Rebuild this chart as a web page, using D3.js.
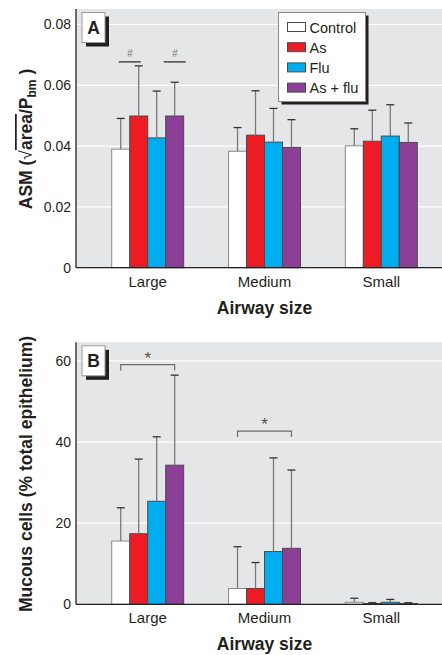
<!DOCTYPE html>
<html>
<head>
<meta charset="utf-8">
<script src="https://cdn.jsdelivr.net/npm/d3@7"></script>
<style>
  body { margin: 0; background: #fff; }
  svg { display: block; }
  text { font-family: "Liberation Sans", Arial, sans-serif; }
</style>
</head>
<body>
<svg id="chart"></svg>
<script>
// data
const groups = ['Large', 'Medium', 'Small'];
const series = ['Control', 'As', 'Flu', 'As + flu'];
const colors = ['#ffffff', '#ed1c24', '#00aeef', '#8b3f97'];

// panel A: ASM, mean and top of error bar
const asmMean = [
  [0.0390, 0.0499, 0.0427, 0.0499],
  [0.0383, 0.0436, 0.0413, 0.0396],
  [0.0401, 0.0416, 0.0433, 0.0412]
];
const asmErr = [
  [0.0491, 0.0664, 0.0581, 0.0610],
  [0.0461, 0.0582, 0.0524, 0.0487],
  [0.0457, 0.0518, 0.0536, 0.0476]
];
const asmTicks = [0, 0.02, 0.04, 0.06, 0.08];

// panel B: mucous cells
const mucMean = [
  [15.6, 17.4, 25.4, 34.3],
  [3.9, 3.9, 13.0, 13.8],
  [0.5, 0.2, 0.5, 0.2]
];
const mucErr = [
  [23.8, 35.8, 41.3, 56.5],
  [14.2, 10.3, 36.1, 33.1],
  [1.5, 0.4, 1.2, 0.4]
];
const mucTicks = [0, 20, 40, 60];

// significance marks
const asmHash = [
  {group: 'Large', series: 'As', at: 0, value: 0.0677},
  {group: 'Large', series: 'As + flu', at: 0.5, value: 0.0677}
];
const mucStar = [
  {group: 'Large', from: 'Control', to: 'As + flu', value: 59.1},
  {group: 'Medium', from: 'Control', to: 'As + flu', value: 42.7}
];

const w = 442, h = 655;
const left = 76;
const svg = d3.select('#chart')
    .attr('width', w)
    .attr('height', h);

// group and bar scales
const x = d3.scaleBand()
    .domain(groups)
    .range([89.3, 439.7])
    .paddingInner(0.384)
    .paddingOuter(0.192);

const xs = d3.scaleBand()
    .domain(series)
    .range([0, x.bandwidth()]);

function drawPanel(opt) {
  const y = d3.scaleLinear().domain([0, opt.max]).range([opt.bottom, opt.top]);
  const g = svg.append('g');

  //background
  g.append('rect')
      .attr('x', left)
      .attr('y', opt.top)
      .attr('width', w - left)
      .attr('height', opt.bottom - opt.top)
      .attr('fill', '#e5e6e7');

  //grid
  g.selectAll('.grid')
      .data(opt.ticks.filter(d => d > 0))
      .enter()
      .append('line')
      .attr('x1', left)
      .attr('x2', w)
      .attr('y1', d => y(d))
      .attr('y2', d => y(d))
      .attr('stroke', 'white')
      .attr('stroke-width', 1.2);

  //y axis labels
  const ya = g.append('g')
      .attr('transform', 'translate(' + left + ',0)')
      .call(d3.axisLeft(y).tickValues(opt.ticks).tickFormat(opt.fmt).tickSize(0).tickPadding(5));
  ya.select('.domain').remove();
  ya.selectAll('text')
      .attr('font-size', 14)
      .attr('fill', '#231f20')
      .attr('font-family', null);

  //bars
  const rows = [];
  groups.forEach((gr, i) => series.forEach((s, j) => {
    rows.push({g: gr, s: s, v: opt.mean[i][j], e: opt.err[i][j], c: colors[j]});
  }));

  const bars = g.append('g');
  bars.selectAll('rect')
      .data(rows)
      .enter()
      .append('rect')
      .attr('x', d => x(d.g) + xs(d.s))
      .attr('y', d => y(d.v))
      .attr('width', xs.bandwidth())
      .attr('height', d => y(0) - y(d.v))
      .attr('fill', d => d.c)
      .attr('stroke', d => d.s === 'Control' ? '#8a8a8a' : '#4a4a4a')
      .attr('stroke-width', 1);

  //error bars
  const eb = g.append('g');
  eb.selectAll('line.v')
      .data(rows)
      .enter()
      .append('line')
      .attr('x1', d => x(d.g) + xs(d.s) + xs.bandwidth() / 2)
      .attr('x2', d => x(d.g) + xs(d.s) + xs.bandwidth() / 2)
      .attr('y1', d => y(d.v))
      .attr('y2', d => y(d.e))
      .attr('stroke', '#7a7a7a')
      .attr('stroke-width', 1.3);
  eb.selectAll('line.cap')
      .data(rows)
      .enter()
      .append('line')
      .attr('x1', d => x(d.g) + xs(d.s) + xs.bandwidth() / 2 - 4)
      .attr('x2', d => x(d.g) + xs(d.s) + xs.bandwidth() / 2 + 4)
      .attr('y1', d => y(d.e))
      .attr('y2', d => y(d.e))
      .attr('stroke', '#333')
      .attr('stroke-width', 1.3);

  //axes lines
  g.append('line')
      .attr('x1', left).attr('x2', left)
      .attr('y1', opt.top).attr('y2', opt.bottom)
      .attr('stroke', '#231f20')
      .attr('stroke-width', 1.3);
  g.append('line')
      .attr('x1', left).attr('x2', w)
      .attr('y1', opt.bottom).attr('y2', opt.bottom)
      .attr('stroke', '#231f20')
      .attr('stroke-width', 1.3);

  //category labels
  const xa = g.append('g')
      .attr('transform', 'translate(0,' + opt.bottom + ')')
      .call(d3.axisBottom(x).tickSize(0).tickPadding(8.5));
  xa.select('.domain').remove();
  xa.selectAll('text')
      .attr('font-size', 15)
      .attr('fill', '#231f20')
      .attr('font-family', null);

  //x title
  g.append('text')
      .attr('x', x('Medium') + x.bandwidth() / 2)
      .attr('y', opt.bottom + 46)
      .attr('text-anchor', 'middle')
      .attr('font-size', 17.5)
      .attr('font-weight', 'bold')
      .attr('fill', '#231f20')
      .text('Airway size');

  //panel letter box
  const lb = g.append('g')
      .attr('transform', 'translate(82,' + (opt.top + 3.5) + ')');
  lb.append('rect')
      .attr('x', 4).attr('y', 4)
      .attr('width', 23).attr('height', 30)
      .attr('fill', '#231f20');
  lb.append('rect')
      .attr('width', 23).attr('height', 30)
      .attr('fill', 'white')
      .attr('stroke', '#9a9a9a');
  lb.append('text')
      .attr('x', 11.5).attr('y', 21.5)
      .attr('text-anchor', 'middle')
      .attr('font-size', 17.5)
      .attr('font-weight', 'bold')
      .attr('fill', '#231f20')
      .text(opt.letter);

  return y;
}

//-------------------------------PANEL A---------------------------------------//
const yA = drawPanel({
  top: 9, bottom: 267.7, max: 0.0851,
  ticks: asmTicks, fmt: d => d === 0 ? '0' : d3.format('.2f')(d),
  mean: asmMean, err: asmErr, letter: 'A'
});

// # marks
const hash = svg.append('g');
hash.selectAll('line')
    .data(asmHash)
    .enter()
    .append('line')
    .attr('x1', d => x(d.group) + xs(d.series) + xs.bandwidth() * d.at - 11)
    .attr('x2', d => x(d.group) + xs(d.series) + xs.bandwidth() * d.at + 11)
    .attr('y1', d => yA(d.value))
    .attr('y2', d => yA(d.value))
    .attr('stroke', '#231f20')
    .attr('stroke-width', 1.2);
hash.selectAll('text')
    .data(asmHash)
    .enter()
    .append('text')
    .attr('x', d => x(d.group) + xs(d.series) + xs.bandwidth() * d.at)
    .attr('y', d => yA(d.value) - 5)
    .attr('text-anchor', 'middle')
    .attr('font-size', 10)
    .attr('font-style', 'italic')
    .attr('fill', '#777')
    .text('#');

// y title A
const tA = svg.append('text')
    .attr('transform', 'translate(32,139) rotate(-90)')
    .attr('text-anchor', 'middle')
    .attr('font-size', 17.5)
    .attr('font-weight', 'bold')
    .attr('fill', '#231f20');
tA.append('tspan').text('ASM (');
tA.append('tspan').attr('font-weight', 'normal').text('\u221A');
tA.append('tspan').attr('text-decoration', 'overline').text('area');
tA.append('tspan').text('/P');
tA.append('tspan').attr('font-size', 12).attr('dy', 4).text('bm');
tA.append('tspan').attr('dy', -4).text(' )');

// legend
const legend = svg.append('g')
    .attr('transform', 'translate(278.5,12.5)');
legend.append('rect')
    .attr('x', 3).attr('y', 3)
    .attr('width', 87).attr('height', 89)
    .attr('fill', '#231f20');
legend.append('rect')
    .attr('width', 87).attr('height', 89)
    .attr('fill', 'white')
    .attr('stroke', '#8a8a8a');
const li = legend.selectAll('g')
    .data(series)
    .enter()
    .append('g')
    .attr('transform', (d, i) => 'translate(9,' + (14.5 + i * 20.2) + ')');
li.append('rect')
    .attr('y', -4.5)
    .attr('width', 18).attr('height', 9)
    .attr('fill', (d, i) => colors[i])
    .attr('stroke', '#4a4a4a');
li.append('text')
    .attr('x', 22)
    .attr('y', 5.5)
    .attr('font-size', 14.5)
    .attr('fill', '#231f20')
    .text(d => d);

//-------------------------------PANEL B---------------------------------------//
const yB = drawPanel({
  top: 342.3, bottom: 604.3, max: 64.6,
  ticks: mucTicks, fmt: d3.format('d'),
  mean: mucMean, err: mucErr, letter: 'B'
});

// * brackets
const stars = svg.append('g');
const sx1 = d => x(d.group) + xs(d.from) + xs.bandwidth() / 2;
const sx2 = d => x(d.group) + xs(d.to) + xs.bandwidth() / 2;
stars.selectAll('path')
    .data(mucStar)
    .enter()
    .append('path')
    .attr('d', d => 'M' + sx1(d) + ',' + (yB(d.value) + 6) + 'V' + yB(d.value) + 'H' + sx2(d) + 'V' + (yB(d.value) + 6))
    .attr('fill', 'none')
    .attr('stroke', '#6a6a6a')
    .attr('stroke-width', 1.2);
stars.selectAll('text')
    .data(mucStar)
    .enter()
    .append('text')
    .attr('x', d => (sx1(d) + sx2(d)) / 2)
    .attr('y', d => yB(d.value) - 1)
    .attr('text-anchor', 'middle')
    .attr('font-size', 17)
    .attr('fill', '#555')
    .text('*');

// y title B
svg.append('text')
    .attr('transform', 'translate(32,474) rotate(-90)')
    .attr('text-anchor', 'middle')
    .attr('font-size', 17.5)
    .attr('font-weight', 'bold')
    .attr('fill', '#231f20')
    .text('Mucous cells (% total epithelium)');
</script>
</body>
</html>
